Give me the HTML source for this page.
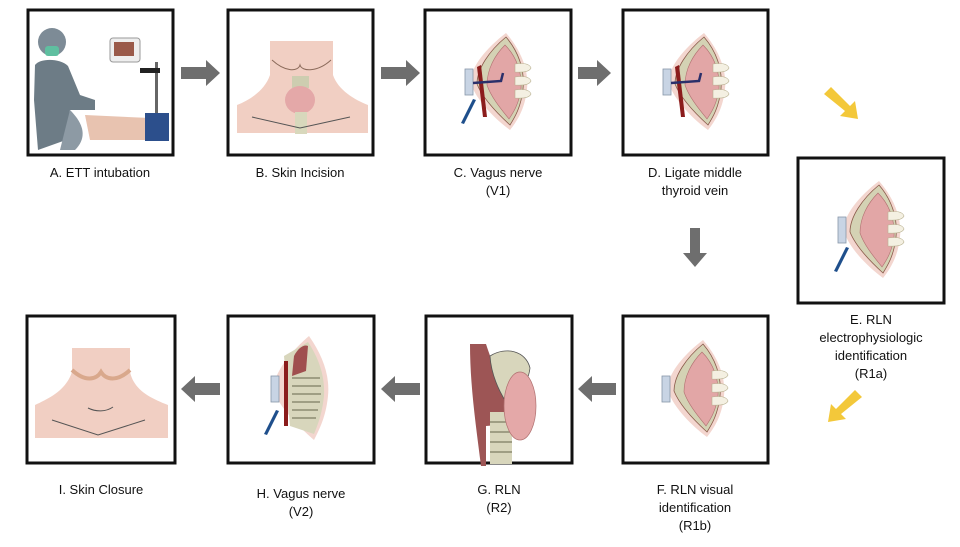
<!DOCTYPE html>
<html><head><meta charset="utf-8"><style>
html,body{margin:0;padding:0;background:#fff;}
svg{display:block;}
text{font-family:"Liberation Sans",Arial,sans-serif;font-size:13px;fill:#111;text-anchor:middle;}
</style></head><body>
<svg width="960" height="547" viewBox="0 0 960 547" xmlns="http://www.w3.org/2000/svg">
<defs>
<g id="field">
  <path d="M81,24 C95,40 104,60 102,80 C100,100 92,112 85,121 C70,110 52,92 46,75 C44,60 60,40 81,24Z" fill="#f3d6cf"/>
  <path d="M81,28 C93,42 100,60 98,80 C96,98 90,108 85,116 C74,106 58,90 52,75 C52,60 64,42 81,28Z" fill="#d4d2b4" stroke="#8a5a4a" stroke-width="0.8"/>
  <path d="M80,36 C92,48 97,64 96,80 C94,95 88,104 84,110 C76,100 66,88 62,76 C62,60 70,46 80,36Z" fill="#e2a6a6" stroke="#b07070" stroke-width="0.6"/>
  <rect x="40" y="60" width="8" height="26" fill="#c8d4e4" stroke="#8896a8" stroke-width="0.8"/>
  <path d="M90,55 q14,-2 16,4 q-2,5 -16,4Z M90,68 q14,-2 16,4 q-2,5 -16,4Z M90,81 q14,-2 16,4 q-2,5 -16,4Z" fill="#f4f0e2" stroke="#b8b090" stroke-width="0.6"/>
</g>
<g id="probe"><path d="M48,90 L36,114 L39,115 L51,91Z" fill="#1f4f8c"/></g>
<g id="vessels"><path d="M52,58 L58,108 L62,108 L56,56Z" fill="#8b1c1c"/><path d="M48,74 L76,72 L78,64" stroke="#2a2f6a" stroke-width="2.5" fill="none"/></g>
</defs>

<!-- boxes -->
<g fill="#fff" stroke="#111" stroke-width="3">
<rect x="28" y="10" width="145" height="145"/>
<rect x="228" y="10" width="145" height="145"/>
<rect x="425" y="10" width="146" height="145"/>
<rect x="623" y="10" width="145" height="145"/>
<rect x="798" y="158" width="146" height="145"/>
<rect x="27" y="316" width="148" height="147"/>
<rect x="228" y="316" width="146" height="147"/>
<rect x="426" y="316" width="146" height="147"/>
<rect x="623" y="316" width="145" height="147"/>
</g>

<!-- A illustration -->
<g>
  <circle cx="52" cy="42" r="14" fill="#7d8b96"/>
  <rect x="45" y="46" width="14" height="10" rx="3" fill="#5fbfa0"/>
  <path d="M35,65 C40,58 60,58 68,66 L80,95 L95,100 L95,110 L70,110 L66,140 L38,150 L34,100Z" fill="#6d7c86"/>
  <rect x="110" y="38" width="30" height="24" rx="3" fill="#eee" stroke="#999"/>
  <rect x="114" y="42" width="20" height="14" fill="#9a5a4a"/>
  <rect x="155" y="62" width="3" height="55" fill="#666"/>
  <rect x="140" y="68" width="20" height="5" fill="#222"/>
  <path d="M85,115 L150,118 L150,140 L90,140Z" fill="#e8c3b0"/>
  <rect x="145" y="113" width="24" height="28" fill="#2c4f8c"/>
  <path d="M70,110 C80,120 90,135 75,150 L60,150Z" fill="#8d9aa4"/>
</g>
<!-- B illustration -->
<g>
  <path d="M270,41 L333,41 L333,75 C338,90 355,100 368,105 L368,133 L237,133 L237,105 C250,100 265,90 270,75Z" fill="#f1cfc3"/>
  <path d="M272,60 C285,72 298,72 300,65 C302,72 318,72 331,60" fill="none" stroke="#8b6a5a" stroke-width="1"/>
  <rect x="292" y="76" width="17" height="12" fill="#cdcdb0"/>
  <ellipse cx="300" cy="100" rx="15" ry="14" fill="#e4a8a8"/>
  <rect x="295" y="112" width="12" height="22" fill="#d8d8bc"/>
  <path d="M252,117 L300,128 L350,117" fill="none" stroke="#555" stroke-width="1"/>
</g>
<!-- C, D, E, F fields -->
<g transform="translate(425,9)"><use href="#field"/><use href="#vessels"/><use href="#probe"/></g>
<g transform="translate(623,9)"><use href="#field"/><use href="#vessels"/></g>
<g transform="translate(798,157)"><use href="#field"/><use href="#probe"/></g>
<g transform="translate(622,316)"><use href="#field"/></g>
<!-- H illustration -->
<g transform="translate(228,316)">
  <path d="M81,20 C95,40 102,60 100,80 C98,100 92,112 86,124 C70,110 52,92 46,75 C44,60 60,38 81,20Z" fill="#f3d6cf"/>
  <path d="M80,26 C92,44 97,62 96,80 C94,98 90,108 86,118 L62,110 L56,40Z" fill="#d8d6bc"/>
  <path d="M66,40 C70,32 76,28 80,30 L78,55 L64,60Z" fill="#a04f4f"/>
  <rect x="56" y="45" width="4" height="65" fill="#8b1c1c"/>
  <g stroke="#8c8c72" stroke-width="1.5">
  <line x1="64" y1="62" x2="92" y2="62"/><line x1="64" y1="70" x2="93" y2="70"/><line x1="64" y1="78" x2="93" y2="78"/><line x1="64" y1="86" x2="92" y2="86"/><line x1="64" y1="94" x2="90" y2="94"/><line x1="64" y1="102" x2="88" y2="102"/></g>
  <rect x="43" y="60" width="8" height="26" fill="#c8d4e4" stroke="#8896a8" stroke-width="0.8"/>
  <use href="#probe" transform="translate(0,4)"/>
</g>
<!-- G illustration -->
<g transform="translate(426,316)">
  <path d="M44,28 L60,28 C70,60 85,80 90,95 L85,108 L60,110 L60,150 L55,150 C50,110 44,70 44,28Z" fill="#9d5555"/>
  <path d="M64,40 C80,30 100,35 104,52 C102,70 88,82 80,86 C70,70 65,55 64,40Z" fill="#d8d6bc" stroke="#555" stroke-width="0.8"/>
  <rect x="64" y="96" width="22" height="52" fill="#d8d6bc"/>
  <g stroke="#8c8c72" stroke-width="1.5"><line x1="64" y1="106" x2="86" y2="106"/><line x1="64" y1="116" x2="86" y2="116"/><line x1="64" y1="126" x2="86" y2="126"/><line x1="64" y1="136" x2="86" y2="136"/></g>
  <ellipse cx="94" cy="90" rx="16" ry="34" fill="#e4a8a8" stroke="#b07070" stroke-width="0.7"/>
</g>
<!-- I illustration -->
<g>
  <path d="M72,348 L130,348 L130,372 C134,390 150,398 168,405 L168,438 L35,438 L35,405 C50,398 66,390 72,372Z" fill="#f1cfc3"/>
  <path d="M72,370 C85,382 96,380 101,372 C106,380 117,382 130,370" fill="none" stroke="#d9a88c" stroke-width="4"/>
  <path d="M88,408 C96,412 106,412 113,407" fill="none" stroke="#555"/>
  <path d="M52,420 L98,435 L145,420" fill="none" stroke="#555"/>
</g>

<!-- gray arrows -->
<g fill="#6e6e6e">
<path d="M181,67 L206,67 L206,60 L220,73 L206,86 L206,79 L181,79Z"/>
<path d="M381,67 L406,67 L406,60 L420,73 L406,86 L406,79 L381,79Z"/>
<path d="M578,67 L597,67 L597,60 L611,73 L597,86 L597,79 L578,79Z"/>
<path d="M690,228 L700,228 L700,253 L707,253 L695,267 L683,253 L690,253Z"/>
<path d="M220,383 L195,383 L195,376 L181,389 L195,402 L195,395 L220,395Z"/>
<path d="M420,383 L395,383 L395,376 L381,389 L395,402 L395,395 L420,395Z"/>
<path d="M616,383 L592,383 L592,376 L578,389 L592,402 L592,395 L616,395Z"/>
</g>
<!-- yellow arrows -->
<g fill="#f3c83a">
<path d="M824,94 L831,87 L850,106 L855,101 L858,119 L840,116 L845,111 Z"/>
<path d="M862,397 L855,390 L836,409 L831,404 L828,422 L846,419 L841,414 Z"/>
</g>

<!-- labels -->
<text x="100" y="177">A. ETT intubation</text>
<text x="300" y="177">B. Skin Incision</text>
<text x="498" y="177">C. Vagus nerve</text>
<text x="498" y="195">(V1)</text>
<text x="695" y="177">D. Ligate middle</text>
<text x="695" y="195">thyroid vein</text>
<text x="871" y="324">E. RLN</text>
<text x="871" y="342">electrophysiologic</text>
<text x="871" y="360">identification</text>
<text x="871" y="378">(R1a)</text>
<text x="101" y="494">I. Skin Closure</text>
<text x="301" y="498">H. Vagus nerve</text>
<text x="301" y="516">(V2)</text>
<text x="499" y="494">G. RLN</text>
<text x="499" y="512">(R2)</text>
<text x="695" y="494">F. RLN visual</text>
<text x="695" y="512">identification</text>
<text x="695" y="530">(R1b)</text>
</svg>
</body></html>
